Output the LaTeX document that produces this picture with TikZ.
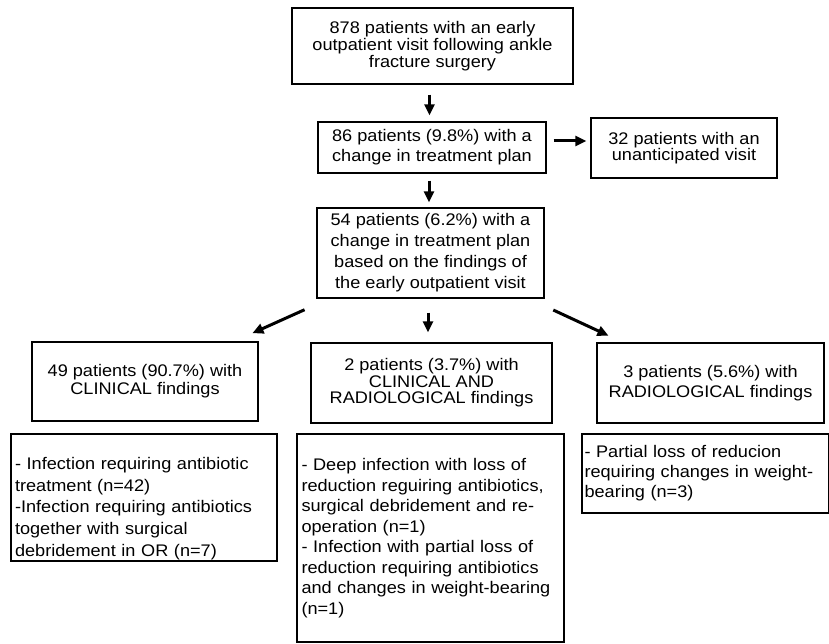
\documentclass[tikz,border=0pt]{standalone}
\usepackage{fontspec}
\setmainfont{Liberation Sans}[FakeStretch=1.08]
\usetikzlibrary{arrows.meta}
\newcommand{\fsz}[1]{\fontsize{16.8}{#1}\selectfont\lineskiplimit=-20pt\relax}

\begin{document}
\begin{tikzpicture}[x=1pt,y=-1pt,>={Triangle[length=11pt,width=10pt]}]
    \tikzstyle{box}=[draw, line width=1.3pt, inner sep=2pt, align=center]
    \tikzstyle{note}=[draw, line width=1.3pt, inner ysep=0pt, align=left]
    \tikzstyle{arr}=[->, line width=3pt]

    \useasboundingbox (0,0) rectangle (829,644);

    \node[box, minimum width=281pt, minimum height=76pt, font=\fsz{16.7}] (all) at (432.5,46)
        {878 patients with an early\\outpatient visit following ankle\\fracture surgery};
    \node[box, minimum width=228pt, minimum height=51pt, font=\fsz{20}] (plan) at (432,147.5)
        {86 patients (9.8\%) with a\\change in treatment plan};
    \node[box, minimum width=186pt, minimum height=60pt, font=\fsz{16.5}] (unant) at (684,148)
        {32 patients with an\\unanticipated visit};
    \node[box, minimum width=227pt, minimum height=90pt, font=\fsz{21}] (find) at (430.5,253)
        {54 patients (6.2\%) with a\\change in treatment plan\\based on the findings of\\the early outpatient visit};
    \node[box, minimum width=226pt, minimum height=79pt, font=\fsz{18.3}] (clin) at (145,381.5)
        {49 patients (90.7\%) with\\CLINICAL findings};
    \node[box, minimum width=241pt, minimum height=80pt, font=\fsz{16.5}] (both) at (431.5,383)
        {2 patients (3.7\%) with\\CLINICAL AND\\RADIOLOGICAL findings};
    \node[box, minimum width=227pt, minimum height=80pt, font=\fsz{20}] (radio) at (710.5,383)
        {3 patients (5.6\%) with\\RADIOLOGICAL findings};

    \node[note, inner xsep=4pt, text width=258pt, minimum height=127pt, font=\fsz{21.7}] (clinx) at (144,497.5)
        {\rule{0pt}{34pt}- Infection requiring antibiotic\\treatment (n=42)\\-Infection requiring antibiotics\\together with surgical\\debridement in OR (n=7)};
    \node[note, inner xsep=4.5pt, text width=258pt, minimum height=208pt, font=\fsz{20.5}] (bothx) at (430.5,538)
        {- Deep infection with loss of\\reduction reguiring antibiotics,\\surgical debridement and re-\\operation (n=1)\\- Infection with partial loss of\\reduction requiring antibiotics\\and changes in weight-bearing\\(n=1)};
    \node[note, inner xsep=2.5pt, text width=242pt, minimum height=79pt, font=\fsz{20}] (radiox) at (705.5,473.5)
        {- Partial loss of reducion\\requiring changes in weight-\\bearing (n=3)};

    \draw[arr, shorten <=10pt, shorten >=6pt] ([xshift=-3pt]all.south) -- ([xshift=-3pt]all.south |- plan.north);
    \draw[arr, shorten <=7pt, shorten >=4pt] ([yshift=6.5pt]plan.east) -- ([yshift=6.5pt]plan.east -| unant.west);
    \draw[arr, shorten <=7pt, shorten >=5pt] ([xshift=-3pt]plan.south) -- ([xshift=-3pt]plan.south |- find.north);
    \draw[arr, shorten <=27pt, shorten >=20pt] (find) -- (clin);
    \draw[arr, shorten <=14pt, shorten >=10pt] ([xshift=-2.5pt]find.south) -- ([xshift=-2.5pt]find.south |- both.north);
    \draw[arr, shorten <=27pt, shorten >=16pt] (find) -- (radio);
\end{tikzpicture}
\end{document}
